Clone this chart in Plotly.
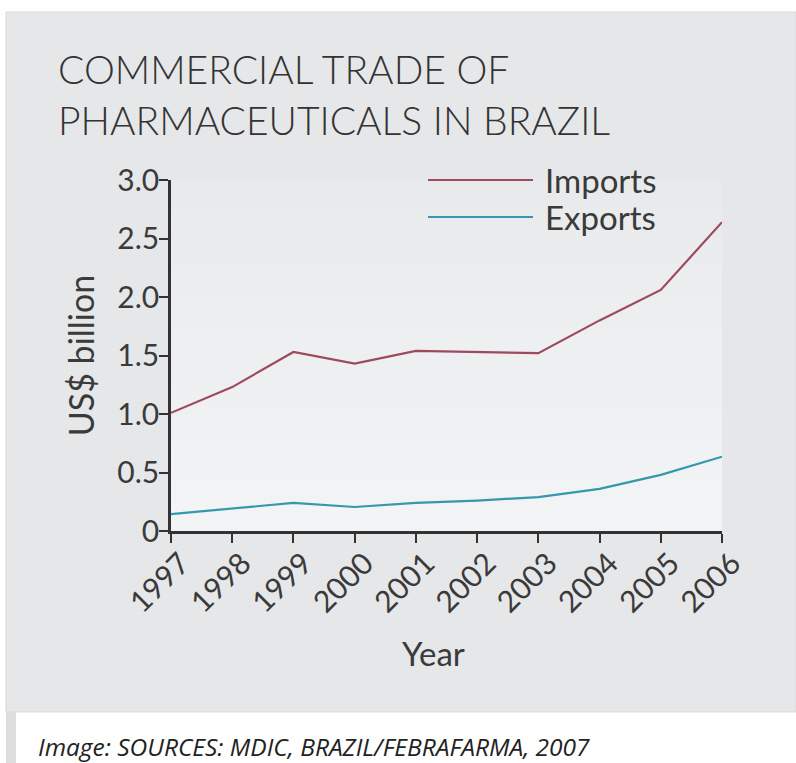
import plotly.graph_objects as go

years = [1997, 1998, 1999, 2000, 2001, 2002, 2003, 2004, 2005, 2006]
imports = [1.01, 1.23, 1.53, 1.43, 1.54, 1.53, 1.52, 1.80, 2.06, 2.64]
exports = [0.145, 0.19, 0.24, 0.205, 0.24, 0.26, 0.29, 0.36, 0.48, 0.635]
y_tickvals = [0, 0.5, 1.0, 1.5, 2.0, 2.5, 3.0]
y_ticktext = ["0", "0.5", "1.0", "1.5", "2.0", "2.5", "3.0"]

W, H = 796, 763
L, R, T, B = 171, 722, 180, 531  # plot area in px
pw, ph = R - L, B - T


def px(x):
    return (x - L) / pw


def py(y):
    return (B - y) / ph


FONT = "Lato"
TXT = "#3a3a3a"
IMP_COL = "#9e4a5d"
EXP_COL = "#3499ab"

fig = go.Figure()
fig.add_trace(go.Scatter(x=years, y=imports, mode="lines", name="Imports",
                         line=dict(color=IMP_COL, width=2.2), showlegend=False))
fig.add_trace(go.Scatter(x=years, y=exports, mode="lines", name="Exports",
                         line=dict(color=EXP_COL, width=2.2), showlegend=False))

shapes = [
    # grey panel
    dict(type="rect", xref="paper", yref="paper", x0=px(6), x1=px(W), y0=py(712), y1=py(12),
         fillcolor="#e6e7e9", line=dict(width=1, color="#d8d9db"), layer="below"),
    # left bar under panel
    dict(type="rect", xref="paper", yref="paper", x0=px(6), x1=px(16), y0=py(H), y1=py(712),
         fillcolor="#dcdddf", line=dict(width=0), layer="below"),
]
# plot area light background (soft vertical gradient via bands)
nb = 12
for i in range(nb):
    t = i / (nb - 1)
    c0 = (0xf3, 0xf4, 0xf5)
    c1 = (0xe9, 0xea, 0xec)
    col = tuple(round(c0[k] + (c1[k] - c0[k]) * t) for k in range(3))
    shapes.append(dict(type="rect", xref="paper", yref="paper", x0=0, x1=1,
                       y0=i / nb, y1=(i + 1) / nb + 0.001,
                       fillcolor="rgb(%d,%d,%d)" % col, line=dict(width=0), layer="below"))
# legend lines
shapes.append(dict(type="line", xref="paper", yref="paper", x0=px(428), x1=px(533),
                   y0=py(180), y1=py(180), line=dict(color=IMP_COL, width=2.2)))
shapes.append(dict(type="line", xref="paper", yref="paper", x0=px(428), x1=px(533),
                   y0=py(217), y1=py(217), line=dict(color=EXP_COL, width=2.2)))

annotations = [
    dict(text="COMMERCIAL TRADE OF<br>PHARMACEUTICALS IN BRAZIL", x=px(56), y=py(95),
         xref="paper", yref="paper", xanchor="left", yanchor="middle", align="left",
         showarrow=False,
         font=dict(family=FONT, size=39, color="#333333", weight=300)),
    dict(text="Imports", x=px(543), y=py(180), xref="paper", yref="paper",
         xanchor="left", yanchor="middle", showarrow=False,
         font=dict(family=FONT, size=33, color=TXT)),
    dict(text="Exports", x=px(543), y=py(217), xref="paper", yref="paper",
         xanchor="left", yanchor="middle", showarrow=False,
         font=dict(family=FONT, size=33, color=TXT)),
    dict(text="Year", x=px(433), y=py(653), xref="paper", yref="paper",
         xanchor="center", yanchor="middle", showarrow=False,
         font=dict(family=FONT, size=33, color=TXT)),
    dict(text="<i>Image: SOURCES: MDIC, BRAZIL/FEBRAFARMA, 2007</i>", x=px(36), y=py(746),
         xref="paper", yref="paper", xanchor="left", yanchor="middle", showarrow=False,
         font=dict(family="Open Sans", size=24.5, color="#222222")),
]

fig.update_layout(
    width=W, height=H,
    margin=dict(l=L, r=W - R, t=T, b=H - B, pad=0),
    paper_bgcolor="white",
    plot_bgcolor="rgba(0,0,0,0)",
    shapes=shapes,
    annotations=annotations,
    showlegend=False,
    font=dict(family=FONT, color=TXT),
)
fig.update_xaxes(
    range=[1997, 2006], tickvals=years, ticktext=[str(y) for y in years],
    tickangle=-45, ticks="outside", ticklen=9, tickwidth=2, tickcolor="#333333",
    showline=True, linecolor="#333333", linewidth=2.5, showgrid=False, zeroline=False,
    tickfont=dict(family=FONT, size=30, color=TXT),
    ticklabelshift=10, ticklabelstandoff=-9,
    automargin=False,
)
fig.update_yaxes(
    range=[0, 3], tickvals=y_tickvals, ticktext=y_ticktext,
    ticks="outside", ticklen=9, tickwidth=2, tickcolor="#333333",
    showline=True, linecolor="#333333", linewidth=2.5, showgrid=False, zeroline=False,
    tickfont=dict(family=FONT, size=30, color=TXT),
    ticklabelstandoff=-6,
    title=dict(text="US$ billion", font=dict(family=FONT, size=34, color=TXT), standoff=13),
    automargin=False,
)

fig.write_html("out.html")
